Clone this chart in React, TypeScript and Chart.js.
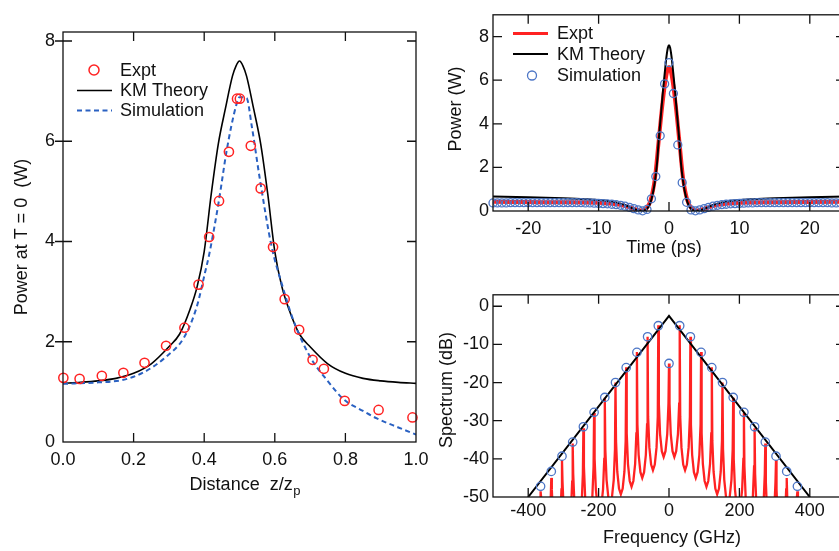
import React, { useEffect, useRef } from "react";
import { Chart, registerables } from "chart.js";

Chart.register(...registerables);

const FONT = "'Liberation Sans', Arial, Helvetica, sans-serif";
const RED = "#ff2222";
const BLUE_PT = "#4d76c6";
const BLUE_DASH = "#2a61c2";

// ---------- Panel A: power at T = 0 vs distance ----------
const distTicks = [0, 0.2, 0.4, 0.6, 0.8, 1.0];
const distTickLabels = ["0.0", "0.2", "0.4", "0.6", "0.8", "1.0"];
const powerATicks = [0, 2, 4, 6, 8];
const distExptX = [0.001, 0.047, 0.11, 0.171, 0.231, 0.292, 0.344, 0.384, 0.414, 0.442, 0.47, 0.493, 0.501, 0.532, 0.56, 0.595, 0.628, 0.669, 0.707, 0.739, 0.798, 0.894, 0.99];
const distExptP = [1.28, 1.26, 1.32, 1.38, 1.58, 1.92, 2.28, 3.14, 4.09, 4.81, 5.79, 6.85, 6.85, 5.91, 5.06, 3.89, 2.85, 2.24, 1.64, 1.46, 0.82, 0.64, 0.49];
const distKmX = [0, 0.05, 0.1, 0.15, 0.2, 0.25, 0.3, 0.33, 0.36, 0.38, 0.4, 0.42, 0.44, 0.46, 0.48, 0.49, 0.5, 0.51, 0.52, 0.54, 0.56, 0.58, 0.6, 0.62, 0.64, 0.67, 0.7, 0.75, 0.8, 0.85, 0.9, 0.95, 1.0];
const distKmP = [1.17, 1.19, 1.22, 1.27, 1.37, 1.56, 1.9, 2.15, 2.65, 3.1, 3.8, 4.95, 5.95, 6.65, 7.3, 7.5, 7.6, 7.5, 7.3, 6.65, 5.95, 4.95, 3.8, 3.1, 2.65, 2.15, 1.9, 1.56, 1.37, 1.27, 1.22, 1.19, 1.17];
const distSimX = [0, 0.1, 0.171, 0.231, 0.292, 0.344, 0.379, 0.402, 0.415, 0.442, 0.464, 0.49, 0.5, 0.52, 0.535, 0.558, 0.591, 0.62, 0.652, 0.7, 0.747, 0.797, 0.85, 0.889, 0.95, 1.0];
const distSimP = [1.16, 1.19, 1.24, 1.4, 1.7, 2.1, 2.7, 3.37, 3.77, 4.83, 5.83, 6.7, 6.88, 6.86, 6.29, 5.23, 3.9, 3.15, 2.44, 1.7, 1.24, 0.84, 0.62, 0.47, 0.29, 0.15];

// ---------- Panel B: power vs time ----------
const timeTicks = [-20, -10, 0, 10, 20];
const powerBTicks = [0, 2, 4, 6, 8];
const timeKmPs = [-25, -20, -15, -12, -10, -8, -7, -6, -5, -4.3, -3.8, -3.3, -2.9, -2.6, -2.3, -2.0, -1.7, -1.46, -1.15, -0.87, -0.6, -0.35, -0.15, 0, 0.15, 0.35, 0.6, 0.87, 1.15, 1.46, 1.7, 2.0, 2.3, 2.6, 2.9, 3.3, 3.8, 4.3, 5, 6, 7, 8, 10, 12, 15, 20, 25];
const timeKmW = [0.67, 0.63, 0.58, 0.54, 0.5, 0.42, 0.35, 0.24, 0.1, 0.02, 0.0, 0.06, 0.2, 0.42, 0.8, 1.36, 2.2, 3.27, 4.4, 5.46, 6.35, 7.1, 7.5, 7.6, 7.5, 7.1, 6.35, 5.46, 4.4, 3.27, 2.2, 1.36, 0.8, 0.42, 0.2, 0.06, 0.0, 0.02, 0.1, 0.24, 0.35, 0.42, 0.5, 0.54, 0.58, 0.63, 0.67];
const timeExptPs = [-25, -20, -15, -10, -8, -6.5, -5.5, -4.5, -3.8, -3.2, -2.6, -2.0, -1.5, -0.9, -0.4, 0, 0.4, 0.9, 1.5, 2.0, 2.6, 3.2, 3.8, 4.5, 5.5, 6.5, 8, 10, 15, 20, 25];
const timeExptW = [0.42, 0.41, 0.4, 0.38, 0.33, 0.25, 0.15, 0.05, 0.02, 0.12, 0.5, 1.5, 3.1, 5.0, 6.2, 6.6, 6.2, 5.0, 3.1, 1.5, 0.5, 0.12, 0.02, 0.05, 0.15, 0.25, 0.33, 0.38, 0.4, 0.41, 0.42];
// simulation samples on a 0.625 ps grid from -25 ps
const simStartPs = -25;
const simStepPs = 0.625;
const timeSimW = [
  0.37, 0.37, 0.37, 0.37, 0.38, 0.38, 0.38, 0.38, 0.38, 0.38,
  0.38, 0.38, 0.38, 0.38, 0.38, 0.38, 0.38, 0.38, 0.38, 0.38,
  0.38, 0.37, 0.37, 0.36, 0.35, 0.34, 0.33, 0.31, 0.29, 0.26,
  0.22, 0.17, 0.11, 0.05, 0.01, 0.07, 0.56, 1.58, 3.45, 5.83,
  6.81,
  5.39, 3.03, 1.3, 0.4, 0.05, 0.01, 0.05, 0.11, 0.17, 0.22,
  0.26, 0.29, 0.31, 0.33, 0.34, 0.35, 0.36, 0.37, 0.37, 0.38,
  0.38, 0.38, 0.38, 0.38, 0.38, 0.38, 0.38, 0.38, 0.38, 0.38,
  0.38, 0.38, 0.38, 0.38, 0.38, 0.38, 0.37, 0.37, 0.37, 0.37,
];

// ---------- Panel C: spectrum ----------
const freqTicks = [-400, -200, 0, 200, 400];
const dbTicks = [-50, -40, -30, -20, -10, 0];
const envFreqGHz = [-400, 0, 400];
const envDb = [-50, -2.5, -50];
const combFreqGHz = [-364.8, -334.4, -304, -273.6, -243.2, -212.8, -182.4, -152, -121.6, -91.2, -60.8, -30.4, 0, 30.4, 60.8, 91.2, 121.6, 152, 182.4, 212.8, 243.2, 273.6, 304, 334.4, 364.8];
const simCombDb = [-47.2, -43.3, -39.3, -35.6, -31.6, -27.8, -23.9, -20, -16.1, -12.1, -8, -5.1, -15, -5.1, -8, -12.1, -16.1, -20, -23.9, -27.8, -31.6, -35.6, -39.3, -43.3, -47.2];
const exptPeakDb = [-48.5, -45, -40.3, -36, -32, -28, -24, -20, -16, -12, -8, -5, -15, -5, -8, -12, -16, -20, -24, -28, -32, -36, -40.3, -45, -48.5];
const exptTroughDb = [-66, -64, -62, -60, -58, -56, -54, -51.5, -49.3, -47.3, -45, -43, -39.5, -39.5, -43, -45, -47.3, -49.3, -51.5, -54, -56, -58, -60, -62, -64, -66];
const flankOffsetGHz = [1.5, 5, 10];
const flankAboveTroughDb = [14, 6, 1.5];

const pts = (xs: number[], ys: number[]) => xs.map((x, i) => ({ x, y: ys[i] }));

function buildSpectrum() {
  const out: { x: number; y: number }[] = [];
  combFreqGHz.forEach((f, i) => {
    const tl = exptTroughDb[i];
    const tr = exptTroughDb[i + 1];
    const p = exptPeakDb[i];
    if (i === 0) out.push({ x: f - 15.2, y: tl });
    for (let k = flankOffsetGHz.length - 1; k >= 0; k--) {
      out.push({ x: f - flankOffsetGHz[k], y: Math.min(p, tl + flankAboveTroughDb[k]) });
    }
    out.push({ x: f, y: p });
    for (let k = 0; k < flankOffsetGHz.length; k++) {
      out.push({ x: f + flankOffsetGHz[k], y: Math.min(p, tr + flankAboveTroughDb[k]) });
    }
    const next = combFreqGHz[i + 1];
    out.push({ x: next !== undefined ? (f + next) / 2 : f + 15.2, y: tr });
  });
  return out;
}

type Title = { text: string; x: number; y: number; rot?: boolean; sub?: string };
type LegendItem = { kind: "circle" | "line" | "dash"; color: string; width: number; x1: number; x2: number; y: number; r?: number; label: string; tx: number };

function decorPlugin(titles: Title[], legend: LegendItem[], crossLeft: boolean) {
  return {
    id: "decor",
    afterDraw(chart: any) {
      const { ctx, chartArea: a, scales } = chart;
      ctx.save();
      ctx.strokeStyle = "#111";
      ctx.lineWidth = 1.3;
      ctx.setLineDash([]);
      ctx.strokeRect(a.left, a.top, a.right - a.left, a.bottom - a.top);
      const L = 9;
      ctx.beginPath();
      scales.x.ticks.forEach((t: any) => {
        const px = scales.x.getPixelForValue(t.value);
        if (px <= a.left + 1 || px >= a.right - 1) return;
        ctx.moveTo(px, a.bottom);
        ctx.lineTo(px, a.bottom - L);
        ctx.moveTo(px, a.top);
        ctx.lineTo(px, a.top + L);
      });
      scales.y.ticks.forEach((t: any) => {
        const py = scales.y.getPixelForValue(t.value);
        if (py <= a.top + 1 || py >= a.bottom - 1) return;
        ctx.moveTo(a.left - (crossLeft ? 8 : 0), py);
        ctx.lineTo(a.left + L, py);
        ctx.moveTo(a.right, py);
        ctx.lineTo(a.right - L, py);
      });
      ctx.stroke();

      ctx.fillStyle = "#111";
      ctx.font = `18px ${FONT}`;
      ctx.textBaseline = "alphabetic";
      titles.forEach((t) => {
        if (t.rot) {
          ctx.save();
          ctx.translate(t.x, t.y);
          ctx.rotate(-Math.PI / 2);
          ctx.textAlign = "center";
          ctx.fillText(t.text, 0, 0);
          ctx.restore();
        } else {
          ctx.font = `18px ${FONT}`;
          const w1 = ctx.measureText(t.text).width;
          let w2 = 0;
          if (t.sub) {
            ctx.font = `13px ${FONT}`;
            w2 = ctx.measureText(t.sub).width + 0.5;
          }
          const x0 = t.x - (w1 + w2) / 2;
          ctx.font = `18px ${FONT}`;
          ctx.textAlign = "left";
          ctx.fillText(t.text, x0, t.y);
          if (t.sub) {
            ctx.font = `13px ${FONT}`;
            ctx.fillText(t.sub, x0 + w1 + 0.5, t.y + 5);
          }
        }
      });

      legend.forEach((it) => {
        ctx.save();
        ctx.strokeStyle = it.color;
        ctx.lineWidth = it.width;
        if (it.kind === "circle") {
          ctx.beginPath();
          ctx.arc((it.x1 + it.x2) / 2, it.y, it.r || 5, 0, Math.PI * 2);
          ctx.stroke();
        } else {
          ctx.setLineDash(it.kind === "dash" ? [5, 3.5] : []);
          ctx.beginPath();
          ctx.moveTo(it.x1, it.y);
          ctx.lineTo(it.x2, it.y);
          ctx.stroke();
        }
        ctx.restore();
        ctx.fillStyle = "#111";
        ctx.font = `18px ${FONT}`;
        ctx.textAlign = "left";
        ctx.textBaseline = "middle";
        ctx.fillText(it.label, it.tx, it.y + 1);
      });
      ctx.restore();
    },
  };
}

function baseOptions(p: {
  padding: { left: number; right: number; top: number; bottom: number };
  x: any;
  y: any;
  xTicks: number[];
  yTicks: number[];
  xPad: number;
  yPad: number;
}) {
  return {
    animation: false as const,
    responsive: false,
    devicePixelRatio: 1,
    events: [] as any[],
    layout: { padding: p.padding },
    plugins: { legend: { display: false }, tooltip: { enabled: false }, title: { display: false } },
    scales: {
      x: {
        type: "linear" as const,
        ...p.x,
        grid: { display: false, drawTicks: false },
        border: { display: false },
        ticks: { ...(p.x.ticks || {}), padding: p.xPad, color: "#111", font: { size: 18, family: FONT } },
        afterBuildTicks: (s: any) => {
          s.ticks = p.xTicks.map((v) => ({ value: v }));
        },
        afterFit: (s: any) => {
          s.height = 40;
        },
      },
      y: {
        type: "linear" as const,
        ...p.y,
        grid: { display: false, drawTicks: false },
        border: { display: false },
        ticks: { ...(p.y.ticks || {}), padding: p.yPad, color: "#111", font: { size: 18, family: FONT } },
        afterBuildTicks: (s: any) => {
          s.ticks = p.yTicks.map((v) => ({ value: v }));
        },
        afterFit: (s: any) => {
          s.width = 63;
        },
      },
    },
  };
}

function useChart(ref: React.RefObject<HTMLCanvasElement>, make: () => any) {
  useEffect(() => {
    if (!ref.current) return;
    const chart = new Chart(ref.current, make());
    return () => chart.destroy();
  }, []);
}

export default function App() {
  const refA = useRef<HTMLCanvasElement>(null);
  const refB = useRef<HTMLCanvasElement>(null);
  const refC = useRef<HTMLCanvasElement>(null);

  useChart(refA, () => ({
    type: "scatter",
    data: {
      datasets: [
        {
          label: "Expt",
          data: pts(distExptX, distExptP),
          showLine: false,
          pointRadius: 4.6,
          pointBorderWidth: 1.5,
          pointBorderColor: RED,
          pointBackgroundColor: "rgba(0,0,0,0)",
          clip: false,
        },
        {
          label: "Simulation",
          data: pts(distSimX, distSimP),
          showLine: true,
          pointRadius: 0,
          borderColor: BLUE_DASH,
          borderWidth: 2,
          borderDash: [5, 3.5],
          cubicInterpolationMode: "monotone",
        },
        {
          label: "KM Theory",
          data: pts(distKmX, distKmP),
          showLine: true,
          pointRadius: 0,
          borderColor: "#000",
          borderWidth: 1.6,
          cubicInterpolationMode: "monotone",
        },
      ],
    },
    options: baseOptions({
      padding: { left: 0, right: 24, top: 32, bottom: 69 },
      x: { min: 0, max: 1, ticks: { callback: (v: any) => distTickLabels[distTicks.indexOf(Number(v))] } },
      y: { min: 0, max: 8.18 },
      xTicks: distTicks,
      yTicks: powerATicks,
      xPad: 7,
      yPad: 8,
    }),
    plugins: [
      decorPlugin(
        [
          { text: "Power at T = 0  (W)", x: 27, y: 237, rot: true },
          { text: "Distance  z/z", sub: "p", x: 245, y: 490 },
        ],
        [
          { kind: "circle", color: RED, width: 1.5, x1: 89, x2: 99, y: 70, r: 5, label: "Expt", tx: 120 },
          { kind: "line", color: "#000", width: 1.6, x1: 77, x2: 112, y: 90.5, label: "KM Theory", tx: 120 },
          { kind: "dash", color: BLUE_DASH, width: 2, x1: 77, x2: 112, y: 110.5, label: "Simulation", tx: 120 },
        ],
        true
      ),
    ],
  }));

  useChart(refB, () => ({
    type: "scatter",
    data: {
      datasets: [
        {
          label: "Simulation",
          data: timeSimW.map((w, i) => ({ x: simStartPs + i * simStepPs, y: w })),
          showLine: false,
          pointRadius: 4,
          pointBorderWidth: 1.3,
          pointBorderColor: BLUE_PT,
          pointBackgroundColor: "rgba(0,0,0,0)",
          clip: false,
        },
        {
          label: "KM Theory",
          data: pts(timeKmPs, timeKmW),
          showLine: true,
          pointRadius: 0,
          borderColor: "#000",
          borderWidth: 2,
          cubicInterpolationMode: "monotone",
        },
        {
          label: "Expt",
          data: pts(timeExptPs, timeExptW),
          showLine: true,
          pointRadius: 0,
          borderColor: RED,
          borderWidth: 4,
          cubicInterpolationMode: "monotone",
        },
      ],
    },
    options: baseOptions({
      padding: { left: 0, right: 25, top: 6.25, bottom: 29 },
      x: { min: -25, max: 25 },
      y: { min: 0, max: 9 },
      xTicks: timeTicks,
      yTicks: powerBTicks,
      xPad: 7,
      yPad: 4,
    }),
    plugins: [
      decorPlugin(
        [
          { text: "Power (W)", x: 31, y: 109, rot: true },
          { text: "Time (ps)", x: 234, y: 253 },
        ],
        [
          { kind: "line", color: RED, width: 3, x1: 83, x2: 118, y: 33.5, label: "Expt", tx: 127 },
          { kind: "line", color: "#000", width: 2, x1: 83, x2: 118, y: 54, label: "KM Theory", tx: 127 },
          { kind: "circle", color: BLUE_PT, width: 1.3, x1: 97, x2: 107, y: 75.5, r: 4.5, label: "Simulation", tx: 127 },
        ],
        false
      ),
    ],
  }));

  useChart(refC, () => ({
    type: "scatter",
    data: {
      datasets: [
        {
          label: "Simulation",
          data: pts(combFreqGHz, simCombDb),
          showLine: false,
          pointRadius: 4.2,
          pointBorderWidth: 1.3,
          pointBorderColor: BLUE_PT,
          pointBackgroundColor: "rgba(0,0,0,0)",
          clip: false,
        },
        {
          label: "KM Theory",
          data: pts(envFreqGHz, envDb),
          showLine: true,
          pointRadius: 0,
          borderColor: "#000",
          borderWidth: 2,
        },
        {
          label: "Expt",
          data: buildSpectrum(),
          showLine: true,
          pointRadius: 0,
          borderColor: RED,
          borderWidth: 2.3,
          tension: 0,
        },
      ],
    },
    options: baseOptions({
      padding: { left: 0, right: 25, top: 11.36, bottom: 14 },
      x: { min: -500, max: 500 },
      y: { min: -50, max: 3 },
      xTicks: freqTicks,
      yTicks: dbTicks,
      xPad: 3.5,
      yPad: 4,
    }),
    plugins: [
      decorPlugin(
        [
          { text: "Spectrum (dB)", x: 22, y: 110, rot: true },
          { text: "Frequency (GHz)", x: 242, y: 263 },
        ],
        [],
        false
      ),
    ],
  }));

  return (
    <div style={{ position: "fixed", left: 0, top: 0, width: 839, height: 551, overflow: "hidden", background: "#fff" }}>
      <canvas ref={refA} width={440} height={551} style={{ position: "absolute", left: 0, top: 0 }} />
      <canvas ref={refB} width={440} height={280} style={{ position: "absolute", left: 430, top: 0 }} />
      <canvas ref={refC} width={440} height={271} style={{ position: "absolute", left: 430, top: 280 }} />
    </div>
  );
}
